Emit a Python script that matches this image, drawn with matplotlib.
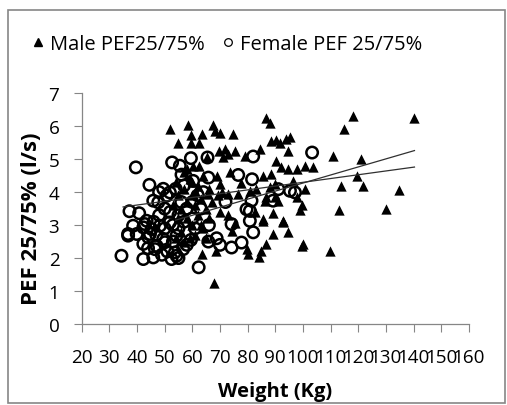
import matplotlib
matplotlib.use("Agg")
import matplotlib.pyplot as plt
from matplotlib.lines import Line2D
from matplotlib.patches import Rectangle
import numpy as np

plt.rcParams['font.family'] = ['Open Sans', 'DejaVu Sans']

# Male PEF25/75% (weight kg, l/s)
male_weight = [140, 118, 115, 111, 121, 100.7, 103.7, 97.7, 119.6, 113.7, 121.8, 134.8,
               99.5, 98.9, 112.9, 130, 92.9, 94.7, 99.5, 109.8, 94.7, 96.5, 100.7,
               52, 58.3, 67.6, 68.2, 70, 74.6, 86.7, 88, 54.7, 59.7, 63.5, 59.7, 62.5,
               69.5, 72, 73, 75.5, 79, 71.2, 65.2, 84.5, 88.6, 90.2, 91.8, 93.8, 95.3,
               90.4, 92.2, 94.7, 62.5, 60.3, 68.8, 73.6, 70, 77.5, 89.9, 88,
               70.6, 73, 76.6, 80.8, 83.2, 65.8, 69.4, 86.8, 89.8, 91.1, 97.7, 86.3,
               89.3, 85.6, 92.8, 70, 73, 75.4, 74.2, 85.7, 82.6, 89.2, 86.6, 85, 84.2,
               79.6, 80.2, 68.5, 63.5, 68, 100.1, 92.9, 88.6, 85.6,
               54, 55, 56, 57, 58, 58, 59, 60, 60, 61, 62, 62, 63, 64, 64, 65, 66, 66,
               67, 56, 57, 59, 61, 55, 53, 54, 58, 60, 63, 65, 57, 61]
male_pef = [6.25, 6.3, 5.9, 5.1, 5.0, 4.8, 4.75, 4.7, 4.5, 4.2, 4.2, 4.05,
            3.6, 3.45, 3.45, 3.5, 3.13, 2.8, 2.37, 2.22, 5.25, 4.35, 4.1,
            5.9, 6.05, 6.05, 5.85, 5.8, 5.75, 6.25, 6.1, 5.48, 5.72, 5.75, 5.5, 5.5,
            5.25, 5.3, 5.15, 5.25, 5.1, 5.05, 5.05, 5.32, 5.55, 5.58, 5.5, 5.62, 5.66,
            4.95, 4.75, 4.7, 4.8, 4.8, 4.5, 4.6, 4.24, 4.29, 4.24, 4.14,
            3.99, 3.95, 3.94, 4.04, 4.09, 3.94, 3.91, 3.84, 3.84, 3.74, 3.84, 3.74,
            3.38, 3.18, 3.13, 3.4, 3.3, 3.05, 2.83, 3.13, 3.39, 2.73, 2.43, 2.22, 2.02,
            2.27, 2.12, 2.22, 2.12, 1.25, 2.43, 3.1, 4.55, 4.5,
            4.3, 3.9, 3.5, 4.1, 3.7, 3.2, 4.4, 3.9, 3.0, 3.6, 4.2, 3.3, 3.8, 4.5, 2.9, 3.5, 4.1, 3.2,
            3.7, 2.8, 2.5, 2.6, 2.7, 3.2, 3.6, 2.6, 4.7, 4.3, 3.0, 2.6, 4.6, 4.0]

# Female PEF 25/75%
female_weight = [39.6, 44.5, 52.7, 55.5, 56.1, 59.5, 65.5, 65.8, 60.3, 76.6, 82, 81.6,
                 49.5, 51.9, 45.9, 47.7, 50.7, 37.3, 40.8, 43.5, 38.6, 42.3, 48.3, 36.8,
                 34.4, 36.8, 42.3, 42.3, 45.9, 46.5, 52.5, 53.7, 39.9, 44.7, 50.1, 44.1,
                 49.5, 47.1, 54.3, 56.7, 51.9, 42.9, 45.3, 81.4, 80.8, 79.6, 80.8, 82,
                 77.8, 74.2, 68.8, 65.8, 59.5, 62.3, 54.3, 95.3, 91.1, 97.1, 89.2, 103.3,
                 74.2, 48, 50, 52, 53, 55, 56, 58, 50, 47, 53, 55, 57, 60, 62, 46, 51,
                 55, 49, 58, 61, 63, 44, 57, 54, 48, 60, 64, 66, 70, 72]
female_pef = [4.75, 4.22, 4.9, 4.8, 4.53, 5.03, 5.05, 4.44, 4.34, 4.52, 5.08, 4.39,
              4.1, 3.99, 3.74, 3.69, 3.89, 3.42, 3.36, 3.13, 2.98, 2.93, 2.98, 2.73,
              2.07, 2.68, 2.43, 1.97, 2.02, 2.27, 1.97, 2.17, 2.73, 2.73, 2.48, 2.63,
              2.58, 2.37, 2.68, 2.27, 3.08, 3.03, 2.88, 3.74, 3.43, 3.48, 3.13, 2.78,
              2.47, 2.32, 2.6, 2.5, 2.55, 1.72, 2.07, 4.04, 4.09, 3.99, 3.74, 5.2,
              3.03, 3.3, 3.5, 3.4, 3.0, 3.3, 3.7, 3.5, 2.9, 2.7, 2.5, 2.9, 3.1, 3.2, 3.9, 3.1, 2.2,
              2.0, 2.1, 2.4, 2.9, 3.5, 2.3, 4.2, 4.1, 4.0, 3.7, 4.0, 3.0, 2.4, 3.7]

# linear trendlines: (x start, x end), (y start, y end)
male_trend_x = [54, 140.3]
male_trend_y = [3.15, 5.26]
female_trend_x = [35, 140.3]
female_trend_y = [3.55, 4.76]

fig = plt.figure(figsize=(5.07, 4.06), dpi=100)
ax = fig.add_axes([0.161, 0.1995, 0.764, 0.5685])

ax.scatter(male_weight, male_pef, marker='^', s=55, color='black', linewidths=0, zorder=2)
ax.scatter(female_weight, female_pef, marker='o', s=68, facecolors='none',
           edgecolors='black', linewidths=1.8, zorder=3)
ax.plot(male_trend_x, male_trend_y, color='#303030', lw=0.9, zorder=4)
ax.plot(female_trend_x, female_trend_y, color='#303030', lw=0.9, zorder=4)

ax.set_xlim(20, 160)
ax.set_ylim(0, 7)
ax.set_xticks(np.arange(20, 161, 10))
ax.set_yticks(np.arange(0, 8, 1))
ax.tick_params(axis='both', direction='out', length=6, width=0.8, color='#868686',
               labelsize=13.6)
ax.tick_params(axis='x', pad=11)
ax.tick_params(axis='y', pad=10)
for s in ['top', 'right']:
    ax.spines[s].set_visible(False)
for s in ['left', 'bottom']:
    ax.spines[s].set_color('#868686')
    ax.spines[s].set_linewidth(0.9)

ax.set_xlabel('Weight (Kg)', fontsize=14.5, fontweight='bold', va='center')
ax.set_ylabel('PEF 25/75% (l/s)', fontsize=16, fontweight='bold', va='center')
ax.xaxis.set_label_coords(0.5, -0.29)
ax.yaxis.set_label_coords(-0.13, 0.46)

handles = [Line2D([], [], marker='^', color='black', ls='none', markersize=5.5),
           Line2D([], [], marker='o', markerfacecolor='none', markeredgecolor='black',
                  ls='none', markersize=5.5, markeredgewidth=0.9)]
fig.legend(handles, ['Male PEF25/75%', 'Female PEF 25/75%'], loc='center left',
           bbox_to_anchor=(0.045, 0.888), ncol=2, frameon=False, fontsize=14.5,
           handlelength=0.5, handletextpad=0.35, columnspacing=0.9, borderpad=0)

fig.patches.append(Rectangle((0.016, 0.005), 0.98, 0.967, transform=fig.transFigure,
                             fill=False, edgecolor='#868686', lw=1.2))

fig.savefig('out.png', dpi=100)
